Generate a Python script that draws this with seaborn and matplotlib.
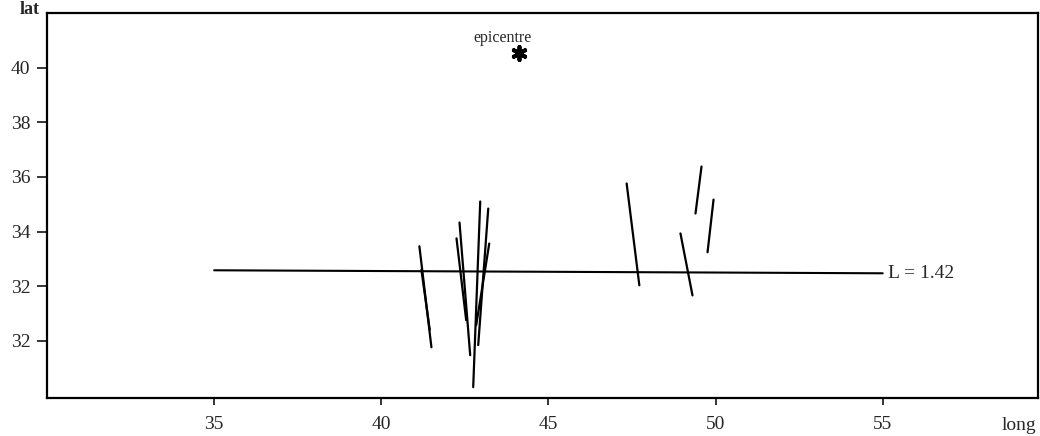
import pandas as pd
import matplotlib.pyplot as plt
import seaborn as sns
import numpy as np

# segment end points (long, lat)
seg_ids = ['a', 'a', 'b', 'b', 'c', 'c', 'd', 'd', 'e', 'e', 'f', 'f',
           'g', 'g', 'h', 'h', 'i', 'i', 'j', 'j', 'k', 'k']
seg_long = [41.14, 41.50, 41.20, 41.45,
            42.34, 42.66, 42.25, 42.54, 42.96, 42.75, 43.20, 42.90, 43.23, 42.84,
            47.34, 47.72, 48.95, 49.31, 49.58, 49.40, 49.94, 49.76]
seg_lat = [33.46, 29.76, 32.60, 30.40,
           34.33, 29.47, 33.75, 30.75, 35.10, 28.30, 34.84, 29.84, 33.56, 30.57,
           35.76, 32.03, 33.93, 31.66, 36.38, 34.66, 35.17, 33.24]

line_long = [35.0, 55.0]
line_lat = [32.58, 32.47]
line_label = 'L = 1.42'

epi_long = [44.13]
epi_lat = [40.55]

xticks = [35, 40, 45, 50, 55]
yticks = [40, 38, 36, 34, 32, 30]
ytick_labels = ['40', '38', '36', '34', '32', '32']

sns.set_style('ticks')
plt.rcParams['font.family'] = ['Liberation Serif', 'DejaVu Serif']

segs = pd.DataFrame({'seg': seg_ids, 'long': seg_long, 'lat': seg_lat})
lline = pd.DataFrame({'long': line_long, 'lat': line_lat})
epi = pd.DataFrame({'long': epi_long, 'lat': epi_lat})

fig = plt.figure(figsize=(10.4, 4.36), dpi=100)
ax = fig.add_axes([0.0452, 0.087, 0.953, 0.883])

sns.lineplot(data=segs, x='long', y='lat', units='seg', estimator=None,
             sort=False, color='black', linewidth=1.6, ax=ax)
sns.lineplot(data=lline, x='long', y='lat', sort=False, color='black',
             linewidth=1.5, ax=ax)
sns.scatterplot(data=epi, x='long', y='lat', marker=(6, 2, 0), s=90,
                color='black', linewidth=2.8, ax=ax)

ax.text(line_long[-1] + 0.15, line_lat[-1], line_label, fontsize=14,
        va='center', ha='left')
ax.text(epi_long[0] - 0.5, epi_lat[0] + 0.55, 'epicentre', fontsize=11.5,
        ha='center', va='center')

ax.set_xlim(30, 59.65)
ax.set_ylim(27.9, 42)
ax.set_xticks(xticks)
ax.set_xticklabels([str(t) for t in xticks])
ax.set_yticks(yticks)
ax.set_yticklabels(ytick_labels)
ax.tick_params(axis='x', direction='out', length=5, width=1.3, pad=8, labelsize=14)
ax.tick_params(axis='y', direction='out', length=7, width=1.3, pad=5, labelsize=14)
ax.set_xlabel('')
ax.set_ylabel('')
for s in ax.spines.values():
    s.set_linewidth(1.6)
    s.set_color('black')

fig.text(20 / 1040, 1 - 10 / 436, 'lat', fontsize=13, ha='left', va='center',
         fontweight='bold')
fig.text(1036 / 1040, 1 - 425 / 436, 'long', fontsize=14, ha='right', va='center')

plt.savefig('out.png', dpi=100)
